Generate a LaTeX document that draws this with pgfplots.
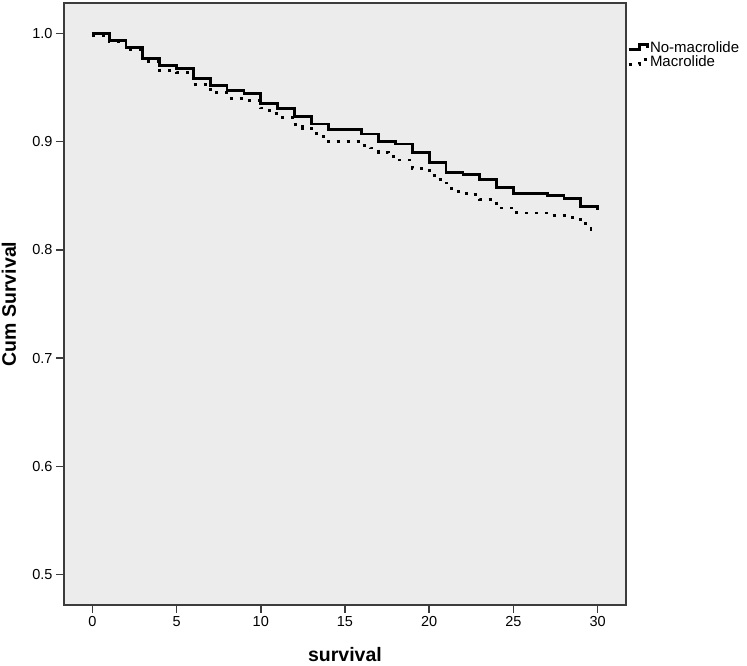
\documentclass[border=0pt]{standalone}
\usepackage{fontspec}
\setmainfont{Liberation Sans}
\usepackage{pgfplots}
\pgfplotsset{compat=1.18}
\usepackage{pgfplotstable}
\definecolor{bgc}{RGB}{236,236,236}
\definecolor{axc}{RGB}{60,60,60}

\pgfplotstableread{
x y
0 1.000
1 0.9934
2 0.987
3 0.977
4 0.9706
5 0.9675
6 0.958
7 0.9515
8 0.947
9 0.9444
10 0.935
11 0.9306
12 0.9235
13 0.9162
14 0.9115
16 0.907
17 0.900
18 0.8977
19 0.890
20 0.8807
21 0.8715
22 0.8693
23 0.8647
24 0.8576
25 0.8524
27 0.850
28 0.8472
29 0.840
30 0.837
}\nomac

\pgfplotstableread{
x y
0 0.9975
1 0.9924
2 0.985
3 0.974
4 0.966
5 0.964
6 0.9525
7 0.945
8 0.9395
9 0.938
10 0.931
10.5 0.9257
11 0.9226
11.9 0.9155
12.5 0.9124
13 0.9078
13.5 0.9047
14 0.900
16 0.8965
16.5 0.894
17 0.890
17.6 0.8862
18 0.883
19 0.8755
20 0.8684
20.5 0.8647
21 0.8617
21.3 0.854
22 0.852
22.5 0.851
23 0.8463
24 0.8386
25.2 0.834
27.2 0.8315
28.5 0.828
29.2 0.824
29.6 0.819
30 0.818
}\mac

\begin{document}
\begin{tikzpicture}
\begin{axis}[
  scale only axis,
  width=562pt, height=602pt,
  xmin=-1.68, xmax=31.68,
  ymin=0.472, ymax=1.028,
  xtick={0,5,...,30},
  ytick={0.5,0.6,0.7,0.8,0.9,1.0},
  xtick pos=left, ytick pos=left,
  tick align=outside,
  major tick length=8pt,
  every tick/.style={axc, line width=1.5pt},
  axis line style={axc, line width=1.3pt},
  axis background/.style={fill=bgc},
  /pgf/number format/assume math mode=true,
  yticklabel style={/pgf/number format/.cd, fixed, fixed zerofill, precision=1},
  ticklabel style={font=\fontsize{14.5}{16}\selectfont},
  every axis y label/.style={at={(axis description cs:-0.098,0.5)}, rotate=90, anchor=center},
  every axis x label/.style={at={(axis description cs:0.5,-0.083)}, anchor=center},
  xlabel={\bfseries survival},
  ylabel={\bfseries Cum Survival},
  label style={font=\fontsize{19.5}{22}\selectfont},
  legend style={at={(axis description cs:1,1)}, anchor=north west, xshift=1pt, yshift=-37pt,
    draw=none, fill=none, font=\fontsize{15}{16}\selectfont, inner sep=0pt,
    row sep=0pt, nodes={inner sep=1pt}},
  legend cell align=left,
  legend image code/.code={\draw[#1] (0pt,-2.5pt) -- (11pt,-2.5pt) -- (11pt,2.5pt) -- (19pt,2.5pt) -- (19pt,-1pt);},
]
\addplot[const plot, black, line width=2.8pt] table[x=x,y=y] {\nomac};
\addlegendentry{No-macrolide}
\addplot[const plot, black, line width=2.8pt, dash pattern=on 3pt off 7pt] table[x=x,y=y] {\mac};
\addlegendentry{Macrolide}
\end{axis}
\pgfresetboundingbox
\path[use as bounding box] (current axis.south west) ++(-64pt,-61pt) rectangle ++(747pt,666pt);
\end{tikzpicture}
\end{document}
